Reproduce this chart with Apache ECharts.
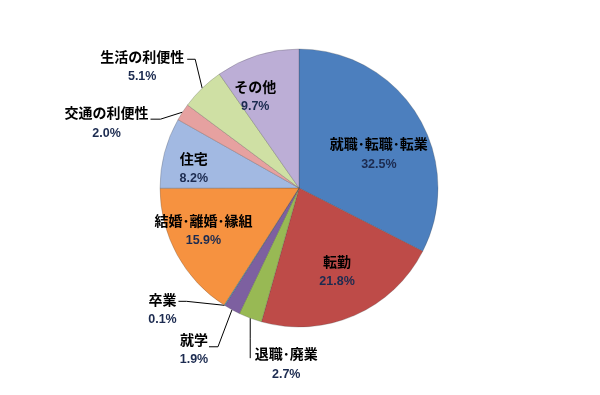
<!DOCTYPE html>
<html><head><meta charset="utf-8">
<script src="https://cdn.jsdelivr.net/npm/echarts@6/dist/echarts.min.js"></script>
<style>html,body{margin:0;padding:0;background:#fff}#c{width:600px;height:395px}</style>
</head><body><div id="c"></div>
<script>
const categories = ['就職･転職･転業','転勤','退職･廃業','就学','卒業','結婚･離婚･縁組','住宅','交通の利便性','生活の利便性','その他'];
const values = [32.5, 21.8, 2.7, 1.9, 0.1, 15.9, 8.2, 2.0, 5.1, 9.7];
const colors = ['#4c7fbe','#be4b48','#98b954','#7d60a0','#4bacc6','#f69240','#a2b9e2','#e6a1a0','#cfe0a4','#bcaed6'];

// label placement config (not data)
const labelCfg = {
  '就職･転職･転業': {inside:true, d:[18,4]},
  '転勤': {inside:true, d:[9,17]},
  '退職･廃業': {off:[36,46], line:[[0,0],[0,20],[0,40]]},
  '就学': {off:[-38,40], line:[[0,0],[-14,37],[-23,37]]},
  '卒業': {off:[-62,4], line:[[0,0],[-38,-4],[-46,-4]]},
  '結婚･離婚･縁組': {inside:true, d:[-32,8]},
  '住宅': {inside:true, d:[-35,-1]},
  '交通の利便性': {off:[-76,11], line:[[0,0],[-22,7],[-32,7]]},
  '生活の利便性': {off:[-60,-22], line:[[0,0],[-7,-29],[-15,-29]]},
  'その他': {inside:true, d:[-22,-22]}
};

const rich = {
  n:{fontFamily:'"Noto Sans CJK JP"',fontWeight:'bold',fontSize:14,color:'#000',lineHeight:20},
  p:{fontFamily:'"Liberation Sans", Arial',fontWeight:'bold',fontSize:12.5,color:'#1c2b50',lineHeight:20}
};

const data = categories.map((c,i)=>{
  const cfg = labelCfg[c];
  return {
    name:c, value:values[i],
    itemStyle:{color:colors[i]},
    label:{show:true, position: cfg.inside?'inside':'outside', align:'center'},
    labelLine:{show:!cfg.inside}
  };
});

const chart = echarts.init(document.getElementById('c'));
chart.setOption({
  backgroundColor:'#fff',
  animation:false,
  series:[{
    type:'pie',
    center:[299,188],
    radius:[0,139],
    startAngle:90,
    clockwise:true,
    avoidLabelOverlap:false,
    itemStyle:{borderColor:'rgba(60,60,60,0.35)',borderWidth:0.7},
    label:{
      formatter:p=>'{n|'+p.name+'}\n{p|'+p.value.toFixed(1)+'%}',
      rich:rich
    },
    labelLine:{show:true,lineStyle:{color:'#000',width:1},length:15,length2:10},
    labelLayout:function(params){
      const cfg = labelCfg[categories[params.dataIndex]];
      if(cfg.inside){ return {dx:cfg.d[0], dy:cfg.d[1]}; }
      const pts = params.labelLinePoints;
      if(!pts) return {};
      const a = pts[0];
      return {
        x:a[0]+cfg.off[0], y:a[1]+cfg.off[1],
        align:'center', verticalAlign:'middle',
        labelLinePoints: cfg.line.map(o=>[a[0]+o[0], a[1]+o[1]])
      };
    },
    data:data
  }]
});
</script>
</body></html>
